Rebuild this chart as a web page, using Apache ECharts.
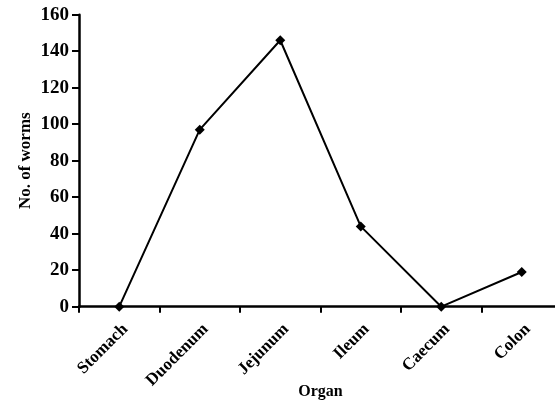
<!DOCTYPE html>
<html><head><meta charset="utf-8">
<script src="https://cdn.jsdelivr.net/npm/echarts@6/dist/echarts.min.js"></script>
<style>html,body{margin:0;padding:0;background:#fff}#c{width:555px;height:408px}</style>
</head><body><div id="c"></div>
<script>
const categories = ["Stomach", "Duodenum", "Jejunum", "Ileum", "Caecum", "Colon"];
const worms = [0, 97, 146, 44, 0, 19];
const yTicks = [0, 20, 40, 60, 80, 100, 120, 140, 160];

const font = "'Liberation Serif', 'Times New Roman', serif";
const chart = echarts.init(document.getElementById('c'), null, {renderer: 'canvas'});
chart.setOption({
  animation: false,
  backgroundColor: '#fff',
  grid: {left: 79, right: -7, top: 14.7, bottom: 101.3, containLabel: false, outerBoundsMode: 'none'},
  xAxis: {
    type: 'category',
    data: categories,
    boundaryGap: true,
    name: 'Organ',
    nameLocation: 'middle',
    nameGap: 77,
    nameMoveOverlap: false,
    nameTextStyle: {fontFamily: font, fontWeight: 'bold', fontSize: 16, color: '#000'},
    axisLine: {lineStyle: {color: '#000', width: 2.5}},
    axisTick: {show: true, inside: false, length: 6, lineStyle: {color: '#000', width: 2}},
    axisLabel: {rotate: 45, margin: 14, verticalAlign: 'top', fontFamily: font, fontWeight: 'bold', fontSize: 17, color: '#000', interval: 0}
  },
  yAxis: {
    type: 'value',
    min: yTicks[0], max: yTicks[yTicks.length - 1], interval: 20,
    name: 'No. of worms',
    nameLocation: 'middle',
    nameGap: 45,
    nameMoveOverlap: false,
    nameTextStyle: {fontFamily: font, fontWeight: 'bold', fontSize: 17, color: '#000'},
    axisLine: {show: true, lineStyle: {color: '#000', width: 2.5}},
    axisTick: {show: true, inside: false, length: 7, lineStyle: {color: '#000', width: 2}},
    splitLine: {show: false},
    axisLabel: {margin: 10, fontFamily: font, fontWeight: 'bold', fontSize: 19, color: '#000'}
  },
  series: [{
    type: 'line',
    data: worms,
    symbol: 'diamond',
    symbolSize: 10,
    lineStyle: {color: '#000', width: 2},
    itemStyle: {color: '#000'},
    z: 5
  }]
});
</script></body></html>
